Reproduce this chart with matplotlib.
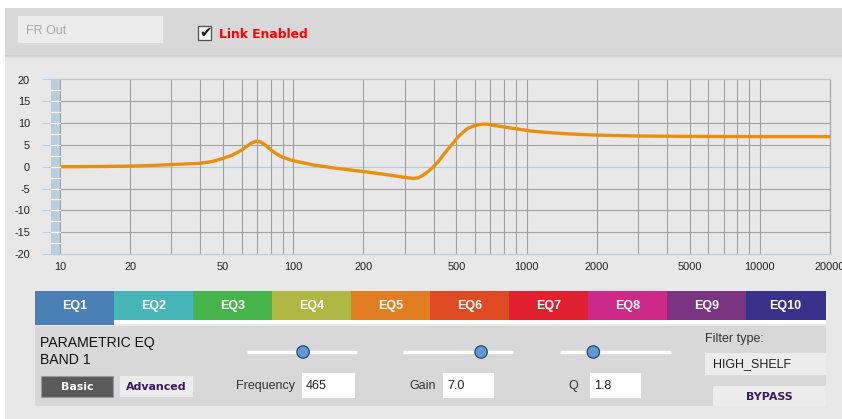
import matplotlib
matplotlib.use('Agg')
import matplotlib.pyplot as plt
from matplotlib.patches import Rectangle, Circle
import matplotlib.ticker as mticker
import numpy as np

W, H, DPI = 842, 419, 100

# ---------------- data ----------------
freq_hz = [10, 15, 20, 25, 30, 35, 40, 45, 50, 55, 60, 63, 66, 69, 72, 75, 78, 81,
           85, 89, 98, 110, 122, 150, 200, 250, 297, 327, 345, 361, 380, 399, 420,
           440, 463, 486, 510, 537, 560, 590, 620, 653, 690, 721, 800, 880, 1040,
           1200, 1445, 1700, 2000, 3000, 5000, 10000, 20000]
gain_db = [0.0, 0.05, 0.15, 0.3, 0.5, 0.65, 0.8, 1.2, 1.9, 2.7, 3.8, 4.6, 5.4, 5.85,
           5.75, 5.2, 4.4, 3.7, 2.9, 2.3, 1.5, 0.9, 0.4, -0.3, -1.1, -1.8, -2.4, -2.7,
           -2.5, -1.9, -1.0, 0.0, 1.3, 2.7, 4.2, 5.5, 6.9, 8.0, 8.8, 9.3, 9.6, 9.8,
           9.7, 9.5, 9.1, 8.8, 8.2, 7.9, 7.6, 7.4, 7.25, 7.05, 6.95, 6.9, 6.9]
x_ticks = [10, 20, 50, 100, 200, 500, 1000, 2000, 5000, 10000, 20000]
y_ticks = [-20, -15, -10, -5, 0, 5, 10, 15, 20]
bands = ['EQ1', 'EQ2', 'EQ3', 'EQ4', 'EQ5', 'EQ6', 'EQ7', 'EQ8', 'EQ9', 'EQ10']
band_colors = ['#4a80b5', '#47b6b8', '#45b54b', '#b0b845', '#e07d22',
               '#de4a22', '#e0202e', '#cc2a86', '#7a3482', '#38328a']
band_title = ['PARAMETRIC EQ', 'BAND 1']
param_labels = ['Frequency', 'Gain', 'Q']
param_values = ['465', '7.0', '1.8']
slider_fraction = [0.51, 0.71, 0.30]
filter_type = 'HIGH_SHELF'
channel_name = 'FR Out'
link_label = 'Link Enabled'

REG = ['Liberation Sans', 'DejaVu Sans']
BOLD = ['DejaVu Sans']

fig = plt.figure(figsize=(W / DPI, H / DPI), dpi=DPI)
fig.patch.set_facecolor('#e8e8e8')

bg = fig.add_axes([0, 0, 1, 1])
bg.set_xlim(0, W)
bg.set_ylim(H, 0)
bg.axis('off')


def rect(x0, y0, x1, y1, color, ec='none', lw=0, z=1):
    bg.add_patch(Rectangle((x0, y0), x1 - x0, y1 - y0, facecolor=color,
                           edgecolor=ec, linewidth=lw, zorder=z))


def px(v):
    return v * 0.72


# white margins
rect(0, 0, W, 8, 'white')
rect(0, 0, 5, H, 'white')
# top bar
rect(5, 8, W, 55, '#d8d8d8')
rect(5, 55, W, 56, '#cfcfcf')
rect(5, 56, W, 57, '#d6d6d6')
rect(5, 57, W, 58, '#dfdfdf')
rect(5, 58, W, H, '#e8e8e8', z=0.5)

# FR Out box
rect(18, 16, 163, 43, '#ececec')
bg.text(26, 31, channel_name, fontsize=px(12.5), color='#a8a8a8', family=REG,
        va='center', ha='left')
# checkbox
rect(198, 26, 211, 40, '#f2f2f2', ec='#505050', lw=0.9, z=2)
bg.text(205.5, 32, '\u2714', fontsize=px(15), color='#202020', family=BOLD,
        ha='center', va='center', zorder=3)
bg.text(219, 34.5, link_label, fontsize=px(12.4), color='#ff0000', family=BOLD,
        fontweight='bold', va='center', ha='left')

# ---------------- plot ----------------
L, R, T, B = 60, 830, 79.5, 254
ax = fig.add_axes([L / W, 1 - B / H, (R - L) / W, (B - T) / H])
ax.set_facecolor('#e8e8e8')
ax.set_xscale('log')
ax.set_xlim(x_ticks[0], x_ticks[-1])
ax.set_ylim(y_ticks[0], y_ticks[-1])
ax.set_xticks(x_ticks)
ax.set_xticklabels([str(t) for t in x_ticks])
minor = [m * 10 ** d for d in range(1, 5) for m in range(1, 10)
         if m * 10 ** d not in x_ticks and m * 10 ** d < x_ticks[-1]]
ax.set_xticks(minor, minor=True)
ax.xaxis.set_minor_formatter(mticker.NullFormatter())
ax.grid(True, which='both', axis='x', color='#a0a0a0', lw=0.8)
ax.set_yticks(y_ticks)
ax.set_yticklabels([str(t) for t in y_ticks])
for v in y_ticks[1:-1]:
    ax.axhline(v, color='#b6cadd' if v == 0 else '#a0a0a0', lw=0.8, zorder=1)
ax.tick_params(axis='x', which='both', length=0, pad=px(8), labelsize=px(11),
               labelcolor='#222222')
ax.tick_params(axis='y', length=px(18), width=0.8, color='#b8cce0', pad=px(12),
               labelsize=px(11), labelcolor='#222222')
for lab in ax.get_xticklabels() + ax.get_yticklabels():
    lab.set_family(REG)
ax.spines['left'].set_visible(False)
ax.spines['bottom'].set_color('#b8cce0')
ax.spines['top'].set_color('#c8c8c8')
ax.spines['right'].set_color('#a8a8a8')
for s in ['bottom', 'top', 'right']:
    ax.spines[s].set_linewidth(0.9)

ytr = ax.get_yaxis_transform()
sw = 9 / (R - L)
ax.add_patch(Rectangle((-sw, y_ticks[0]), sw, y_ticks[-1] - y_ticks[0],
                       transform=ytr, facecolor='#b9cde0', edgecolor='none',
                       clip_on=False, zorder=5))
for v in np.arange(y_ticks[0] + 2.5, y_ticks[-1], 2.5):
    ax.plot([-sw, 0], [v, v], transform=ytr, color='white', lw=0.9,
            clip_on=False, zorder=6)

ax.plot(freq_hz, gain_db, color='#e8900c', lw=2.4, solid_capstyle='round',
        solid_joinstyle='round', zorder=4)

# ---------------- band tabs ----------------
tx0, tx1, ty0, ty1 = 35, 825, 291, 320
tw = (tx1 - tx0) / len(bands)
for i, (name, col) in enumerate(zip(bands, band_colors)):
    x0 = tx0 + i * tw
    rect(x0, ty0, x0 + tw + 0.5, ty1, col, z=2)
    bg.text(x0 + tw / 2, (ty0 + ty1) / 2 + 0.5, name, fontsize=px(12.5), color='white',
            family=REG, fontweight='bold', ha='center', va='center', zorder=3)
rect(tx0 + tw, ty1, 826, 323.5, 'white', z=2)
rect(tx0, ty1, tx0 + tw, 324.5, band_colors[0], z=2)
rect(35, 325.5, 826, 406, '#d8d8d8', z=1)

bg.text(40, 343, band_title[0], fontsize=px(14), color='#111111', family=REG,
        ha='left', va='center', zorder=3)
bg.text(40, 359.5, band_title[1], fontsize=px(14), color='#111111', family=REG,
        ha='left', va='center', zorder=3)

# Basic / Advanced buttons
rect(41, 375.5, 113, 397, '#5a5a5a', ec='#9a9a9a', lw=0.8, z=2)
bg.text(77, 386.5, 'Basic', fontsize=px(11), color='white', family=BOLD,
        fontweight='bold', ha='center', va='center', zorder=3)
rect(120, 375.5, 193, 397, '#ececec', z=2)
bg.text(156.5, 386.5, 'Advanced', fontsize=px(11), color='#3a1a5c', family=BOLD,
        fontweight='bold', ha='center', va='center', zorder=3)

# sliders and value boxes
slider_x = [(247, 357), (403, 513), (560, 671)]
label_right = [295, 436, 578]
box_x = [(302, 355), (443, 494), (590, 641)]
for (s0, s1), f, lab, lr, (b0, b1), val in zip(slider_x, slider_fraction, param_labels,
                                                label_right, box_x, param_values):
    bg.plot([s0, s1], [352, 352], color='white', lw=2.4, solid_capstyle='butt', zorder=3)
    bg.add_patch(Circle((s0 + f * (s1 - s0), 352), 6.2, facecolor='#5d9ad6',
                        edgecolor='#2b4670', lw=0.9, zorder=4))
    bg.text(lr, 386, lab, fontsize=px(12.5), color='#333333', family=REG,
            ha='right', va='center', zorder=3)
    rect(b0, 373, b1, 398, 'white', z=2)
    bg.text(b0 + 4, 386, val, fontsize=px(12.5), color='#222222', family=REG,
            ha='left', va='center', zorder=3)

# filter type
bg.text(705, 338.5, 'Filter type:', fontsize=px(12.5), color='#333333', family=REG,
        ha='left', va='center', zorder=3)
rect(705, 353, 826, 374.5, '#ececec', z=2)
bg.text(713, 364, filter_type, fontsize=px(12.5), color='#222222', family=REG,
        ha='left', va='center', zorder=3)
rect(713, 386, 826, 406, '#ececec', z=2)
bg.text(769.5, 396.5, 'BYPASS', fontsize=px(11), color='#3a1a5c', family=BOLD,
        fontweight='bold', ha='center', va='center', zorder=3)

fig.savefig('out.png', dpi=DPI, facecolor=fig.get_facecolor())
